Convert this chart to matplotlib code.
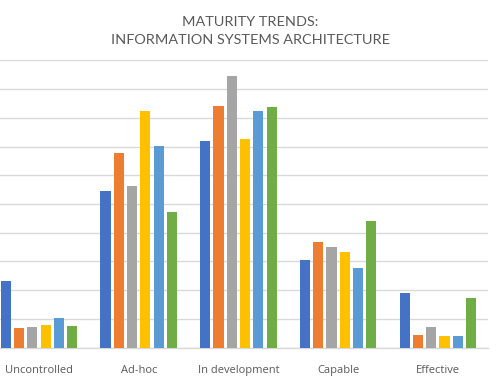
import numpy as np
import matplotlib
matplotlib.use("Agg")
import matplotlib.pyplot as plt

# ── Data (y axis units = gridline steps) ──
categories = ["Uncontrolled", "Ad-hoc", "In development", "Capable", "Effective"]
series_1 = [2.32, 5.46, 7.20, 3.06, 1.89]
series_2 = [0.70, 6.77, 8.40, 3.68, 0.43]
series_3 = [0.72, 5.62, 9.44, 3.49, 0.72]
series_4 = [0.79, 8.23, 7.25, 3.33, 0.40]
series_5 = [1.04, 7.02, 8.25, 2.78, 0.40]
series_6 = [0.75, 4.72, 8.38, 4.40, 1.72]
colors = ["#4472C4", "#ED7D31", "#A5A5A5", "#FFC000", "#5B9BD5", "#70AD47"]

title_lines = ["MATURITY TRENDS:", "INFORMATION SYSTEMS ARCHITECTURE"]

fig = plt.figure(figsize=(5.0, 3.83), dpi=100)
# chart is cropped on the left in the reference, so the axes start off-canvas
ax = fig.add_axes([-0.0216, 0.0922, 0.997, 0.7504])

all_series = [series_1, series_2, series_3, series_4, series_5, series_6]
x = np.arange(len(categories))
step = 0.1334
width = 0.102
for i, (vals, c) in enumerate(zip(all_series, colors)):
    offs = (i - 2.5) * step
    ax.bar(x + offs, vals, width=width, color=c, zorder=3)

ax.set_xlim(-0.5, len(categories) - 0.5)
ax.set_ylim(0, 10)
ax.set_yticks(np.arange(0, 11, 1))
ax.yaxis.grid(True, color="#D9D9D9", linewidth=1.0, zorder=0)
ax.tick_params(axis="y", left=False, labelleft=False)
ax.tick_params(axis="x", bottom=False, pad=9)
ax.set_xticks(x)
ax.set_xticklabels(categories, fontsize=8, color="#595959", family="Open Sans")

for s in ["top", "right", "left"]:
    ax.spines[s].set_visible(False)
ax.spines["bottom"].set_color("#D9D9D9")
ax.spines["bottom"].set_linewidth(1.0)

# title as two lines, placed by baseline
fig.text(0.501, 0.932, title_lines[0], ha="center", va="baseline",
         fontsize=10.4, color="#595959", family="Lato")
fig.text(0.501, 0.886, title_lines[1], ha="center", va="baseline",
         fontsize=10.4, color="#595959", family="Lato")

fig.savefig("out.png", dpi=100)
